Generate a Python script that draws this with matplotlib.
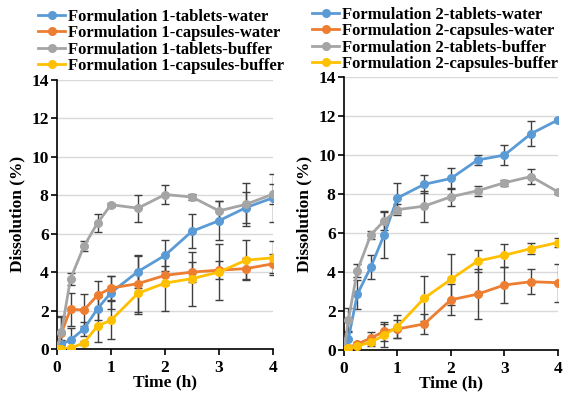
import numpy as np
import matplotlib
matplotlib.use("Agg")
from matplotlib import pyplot as plt

# sampling times (h)
time = [0, 0.083, 0.25, 0.5, 0.75, 1, 1.5, 2, 2.5, 3, 3.5, 4]

# formulation 1
f1_tab_water = [0, 0.25, 0.47, 1.05, 2.1, 2.93, 4.03, 4.87, 6.12, 6.67, 7.35, 7.86]
f1_tab_water_sd = [0, 0.2, 0.6, 0.35, 0.6, 0.85, 0.84, 0.8, 0.88, 1.0, 0.8, 1.25]
f1_cap_water = [0, 0.85, 2.07, 2.03, 2.8, 3.17, 3.4, 3.83, 4.0, 4.1, 4.18, 4.43]
f1_cap_water_sd = [0, 0.8, 0.85, 0.85, 0.75, 0.63, 1.45, 0.5, 0.5, 0.45, 0.55, 0.5]
f1_tab_buffer = [0, 0.9, 3.65, 5.35, 6.55, 7.5, 7.32, 8.03, 7.9, 7.18, 7.52, 8.05]
f1_tab_buffer_sd = [0, 0.8, 0.3, 0.25, 0.45, 0.1, 0.7, 0.48, 0.15, 0.5, 1.1, 0.5]
f1_cap_buffer = [0, 0, 0.04, 0.33, 1.2, 1.5, 2.9, 3.43, 3.66, 4.0, 4.62, 4.74]
f1_cap_buffer_sd = [0, 0, 0.05, 0.1, 0.82, 1.0, 1.07, 1.45, 1.4, 1.45, 1.05, 0.9]

# formulation 2
f2_tab_water = [0, 0.58, 2.86, 4.24, 5.9, 7.8, 8.5, 8.8, 9.75, 10.0, 11.1, 11.8]
f2_tab_water_sd = [0, 0.35, 0.75, 0.62, 1.2, 0.75, 0.47, 0.55, 0.25, 0.5, 0.65, 0.1]
f2_cap_water = [0, 0.1, 0.3, 0.6, 0.95, 1.07, 1.33, 2.57, 2.86, 3.33, 3.5, 3.45]
f2_cap_water_sd = [0, 0.05, 0.1, 0.3, 0.5, 0.45, 0.5, 0.8, 1.28, 0.9, 0.63, 0.97]
f2_tab_buffer = [0, 1.55, 4.07, 5.9, 6.63, 7.2, 7.38, 7.86, 8.17, 8.58, 8.9, 8.12]
f2_tab_buffer_sd = [0, 0.6, 0.35, 0.2, 0.5, 0.3, 0.8, 0.45, 0.25, 0.15, 0.4, 0.1]
f2_cap_buffer = [0, 0.1, 0.2, 0.39, 0.75, 1.2, 2.65, 3.62, 4.56, 4.86, 5.2, 5.51]
f2_cap_buffer_sd = [0, 0.05, 0.1, 0.2, 0.6, 0.6, 1.15, 1.3, 0.55, 0.6, 0.3, 0.25]

colors = ["#5B9BD5", "#ED7D31", "#A5A5A5", "#FFC000"]
suffixes = ["tablets-water", "capsules-water", "tablets-buffer", "capsules-buffer"]

plt.rcParams["font.family"] = ["Liberation Serif", "DejaVu Serif"]
plt.rcParams["font.weight"] = "bold"

fig = plt.figure(figsize=(5.7, 3.94), dpi=100)
ax1 = fig.add_axes([0.100, 0.114, 0.379, 0.684])
ax2 = fig.add_axes([0.6035, 0.112, 0.375, 0.692])

panels = [
    (ax1, 1, [f1_tab_water, f1_cap_water, f1_tab_buffer, f1_cap_buffer],
     [f1_tab_water_sd, f1_cap_water_sd, f1_tab_buffer_sd, f1_cap_buffer_sd], (35 / 570, 0.986)),
    (ax2, 2, [f2_tab_water, f2_cap_water, f2_tab_buffer, f2_cap_buffer],
     [f2_tab_water_sd, f2_cap_water_sd, f2_tab_buffer_sd, f2_cap_buffer_sd], (309 / 570, 0.991)),
]

for ax, n, series, sds, leg_pos in panels:
    handles = []
    for y, sd, c, s in zip(series, sds, colors, suffixes):
        ax.errorbar(time, y, yerr=sd, fmt="none", ecolor="#404040",
                    elinewidth=1, capsize=3, capthick=1, zorder=2)
        h, = ax.plot(time, y, color=c, lw=2, marker="o", ms=5.5,
                     label=f"Formulation {n}-{s}", zorder=3)
        handles.append(h)
    ax.set_xlim(0, 4)
    ax.set_ylim(0, 14)
    ax.set_xticks(range(5))
    ax.set_yticks(range(0, 15, 2))
    ax.grid(axis="y", color="#D9D9D9", lw=1)
    ax.set_axisbelow(True)
    for sp in ["top", "right"]:
        ax.spines[sp].set_visible(False)
    ax.spines["left"].set_linewidth(1.2)
    ax.spines["bottom"].set_linewidth(1.2)
    ax.tick_params(labelsize=12.5, length=4, width=1.2, pad=2)
    ax.tick_params(axis="x", pad=4)
    for lab in ax.get_xticklabels() + ax.get_yticklabels():
        lab.set_fontweight("bold")
    ax.set_xlabel("Time (h)", fontsize=12.5, fontweight="bold", labelpad=-1)
    ax.set_ylabel("Dissolution (%)", fontsize=12.5, fontweight="bold", labelpad=4)
    ax.legend(handles=handles, loc="upper left", bbox_to_anchor=leg_pos,
              bbox_transform=fig.transFigure, frameon=False,
              prop={"weight": "bold", "size": 12}, handlelength=1.6,
              handletextpad=0.2, labelspacing=0.02, borderaxespad=0.1,
              borderpad=0.1)

fig.savefig("out.png", dpi=100)
